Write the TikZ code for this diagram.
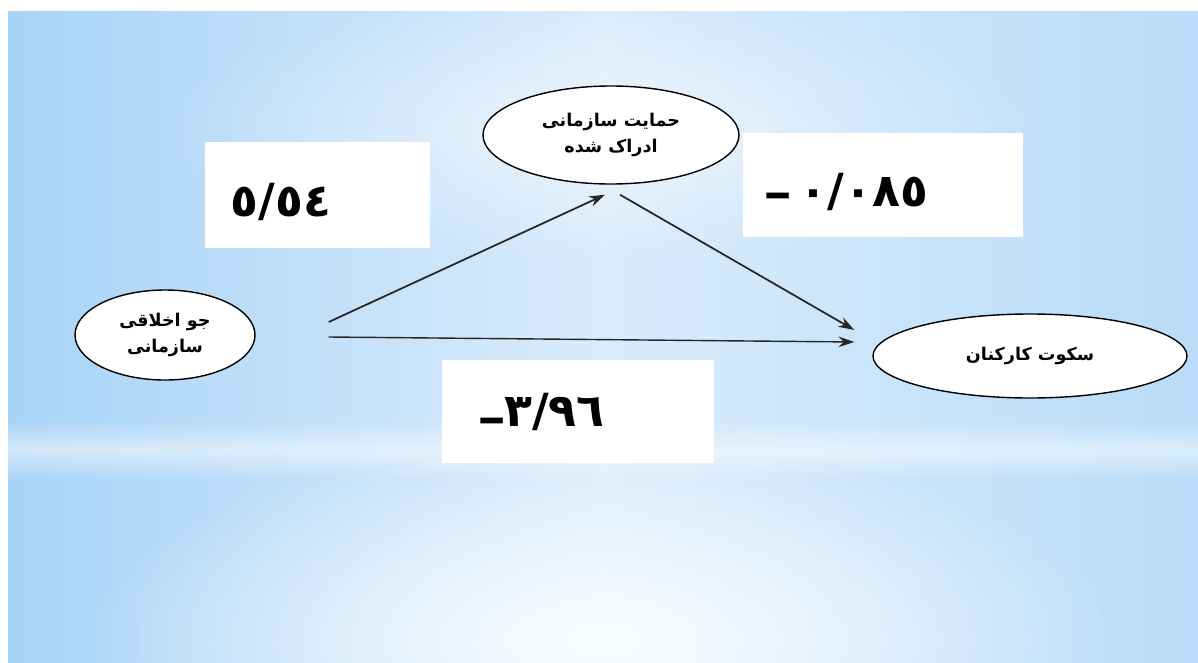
\documentclass[tikz,border=0pt]{standalone}
\usepackage{fontspec}
\usepackage{graphicx}
\TeXXeTstate=1
\newfontfamily\arabicfont[Script=Arabic]{DejaVu Sans}
\usetikzlibrary{shapes.geometric,arrows.meta,fadings}
\definecolor{bgL}{RGB}{168,211,246}
\definecolor{bgM}{RGB}{218,236,251}
\definecolor{bgR}{RGB}{185,220,248}
\tikzfading[name=hband, top color=transparent!100, bottom color=transparent!100, middle color=transparent!30]
\tikzfading[name=radfade, inner color=transparent!0, outer color=transparent!100]
\newcommand{\longminus}[1]{\raisebox{#1}{\scalebox{0.55}[1]{—}}}
\tikzset{
  concept/.style={ellipse, draw=black, line width=0.8pt, fill=white, align=center, inner sep=0pt, font=\arabicfont\bfseries\fontsize{10}{15}\selectfont},
  valbox/.style={rectangle, fill=white, draw=none, inner sep=0pt},
  valtext/.style={font=\arabicfont\bfseries\fontsize{26}{30}\selectfont, inner sep=0pt},
  arr/.style={-{Stealth[length=9pt,width=6pt]}, line width=1pt, draw=black!85}
}
\begin{document}
\begin{tikzpicture}[x=0.02cm,y=-0.02cm]
\useasboundingbox (0,0) rectangle (1198,663);
% background
\shade[left color=bgL, right color=bgR, middle color=bgM] (8,11) rectangle (1198,663);
\fill[white, path fading=hband, opacity=0.7] (8,420) rectangle (1198,480);
\fill[white, path fading=radfade, opacity=0.9] (600,640) ellipse (520 and 200);
\fill[white, path fading=radfade, opacity=0.5] (600,130) ellipse (450 and 130);
% value boxes
\node[valbox, minimum width=225*0.02cm, minimum height=106*0.02cm] (b1) at (317.5,195) {};
\node[valbox, minimum width=280*0.02cm, minimum height=104*0.02cm] (b2) at (883,185) {};
\node[valbox, minimum width=272*0.02cm, minimum height=103*0.02cm] (b3) at (578,411.5) {};
\node[valtext] (v1) at (281,202) {\hbox{٥/٥٤}};
\node[valtext] (v2) at (847,192) {\longminus{-1pt}\kern5pt\hbox{٠/٠٨٥}};
\node[valtext] (v3) at (542,413) {\longminus{-4pt}\hbox{٣/٩٦}};
% concepts
\node[concept, minimum width=256*0.02cm, minimum height=98*0.02cm] (top) at (611,135) {\beginR حمایت  سازمانی\endR\\\beginR ادراک شده\endR};
\node[concept, minimum width=180*0.02cm, minimum height=90*0.02cm] (left) at (165,335) {\beginR جو اخلاقی\endR\\\beginR سازمانی\endR};
\node[concept, minimum width=314*0.02cm, minimum height=84*0.02cm] (right) at (1030,356) {\beginR سکوت  کارکنان\endR};
% connectors
\draw[arr] ([shift={(73,-13)}]left.east) -- ([shift={(-6,10)}]top.south);
\draw[arr] ([shift={(9,10)}]top.south) -- ([shift={(-18,-26)}]right.west);
\draw[arr, line width=0.8pt] ([shift={(73,2)}]left.east) -- ([shift={(-18,-14)}]right.west);
\end{tikzpicture}
\end{document}
